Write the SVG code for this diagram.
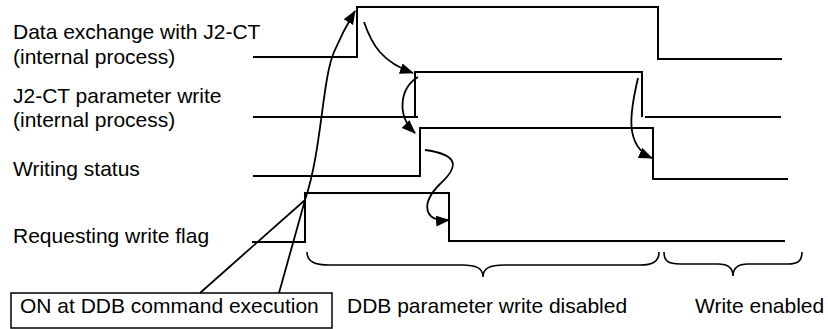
<svg xmlns="http://www.w3.org/2000/svg" width="828" height="329" viewBox="0 0 828 329">
<style>
text{font-family:"Liberation Sans",Arial,sans-serif;font-size:21px;fill:#000}
.sig{fill:none;stroke:#000;stroke-width:2}
.arr{fill:none;stroke:#000;stroke-width:1.8;marker-end:url(#ah)}
.ln{fill:none;stroke:#000;stroke-width:1.8}
.brace{fill:none;stroke:#000;stroke-width:1.6}
</style>
<defs>
<marker id="ah" markerUnits="userSpaceOnUse" markerWidth="14" markerHeight="12" refX="13" refY="5.5" orient="auto">
<path d="M0,0 L14,5.5 L0,11 z" fill="#000"/>
</marker>
</defs>
<rect width="828" height="329" fill="#fff"/>
<g id="sig-data-exchange">
<text x="13" y="39">Data exchange with J2-CT</text>
<text x="13" y="64">(internal process)</text>
<path class="sig" d="M253,57 L357,57 L357,7 L658,7 L658,59 L782,59"/>
</g>
<g id="sig-param-write">
<text x="13" y="103">J2-CT parameter write</text>
<text x="13" y="127">(internal process)</text>
<path class="sig" d="M253,117 L418,117 M415,117 L415,72 L643,72 M642,72 L642,117 M645,117 L781,117"/>
</g>
<g id="sig-writing-status">
<text x="13" y="176">Writing status</text>
<path class="sig" d="M253,176 L420,176 L420,128 L653,128 L653,179 L788,179"/>
</g>
<g id="sig-request-flag">
<text x="13" y="243">Requesting write flag</text>
<path class="sig" d="M252,242 L305,242 L305,193 L449,193 L449,241 L785,241"/>
</g>
<g id="note-ddb">
<rect x="11" y="293" width="321" height="35" fill="none" stroke="#000" stroke-width="1.5"/>
<text x="20" y="313">ON at DDB command execution</text>
</g>
<g id="label-disabled">
<path class="brace" d="M307,252 C307,262 315,265 330,265 L462,265 C476,265 483,268 483,277 C483,268 490,265 504,265 L640,265 C652,265 659,262 659,252"/>
<text x="347" y="313">DDB parameter write disabled</text>
</g>
<g id="label-enabled">
<path class="brace" d="M664,252 C664,261 668,264 680,264 L718,264 C728,264 733,268 733,276 C733,268 738,264 748,264 L788,264 C798,264 802,261 802,252"/>
<text x="695" y="313">Write enabled</text>
</g>
<g id="connectors">
<path class="ln" d="M200,293 L305,200"/>
<path class="arr" d="M279,293 L305,200 C322,150 322,80 334,52 C340,38 346,26 355,11"/>
<path class="arr" d="M364,22 C372,45 382,62 413,73"/>
<path class="arr" d="M418,77 C400,88 396,115 415,133"/>
<path class="arr" d="M425,150 C455,154 462,164 440,184 C420,204 424,222 449,220"/>
<path class="arr" d="M638,78 C630,112 624,146 652,158"/>
</g>
</svg>
